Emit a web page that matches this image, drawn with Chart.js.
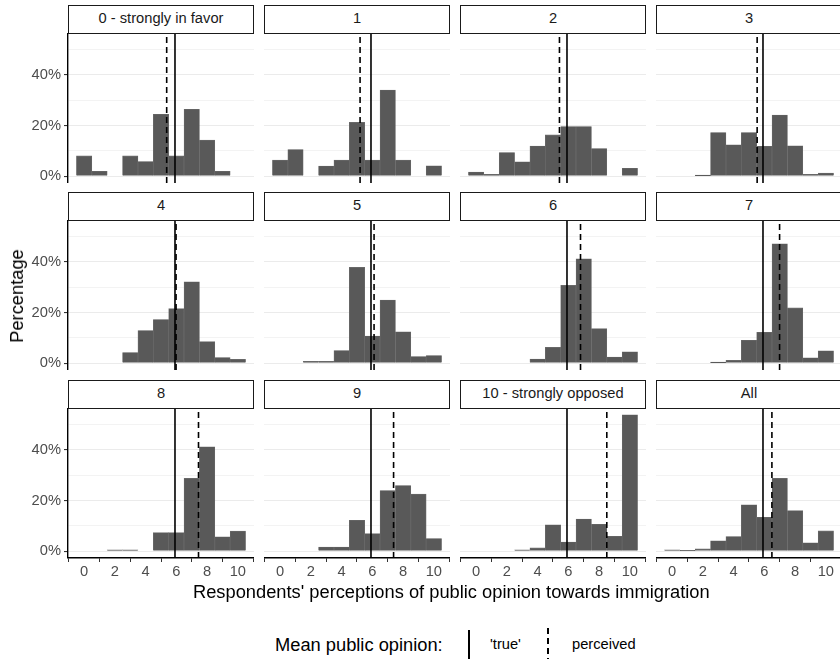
<!DOCTYPE html>
<html>
<head>
<meta charset="utf-8">
<script src="https://cdn.jsdelivr.net/npm/chart.js@4.4.1/dist/chart.umd.min.js"></script>
<style>
body{margin:0;background:#fff;width:840px;height:659px;overflow:hidden;position:relative;font-family:"Liberation Sans",Arial,sans-serif;}
canvas{position:absolute}
.strip{position:absolute;box-sizing:border-box;border:1.6px solid #1a1a1a;background:#fff;text-align:center;font-size:14.7px;color:#1a1a1a;line-height:25px;}
.txt{position:absolute;white-space:nowrap;color:#000}
</style>
</head>
<body>
<div id="wrap"></div>
<script>
// facets
const panelNames = ['0 - strongly in favor','1','2','3','4','5','6','7','8','9','10 - strongly opposed','All'];
const bins = [0,1,2,3,4,5,6,7,8,9,10];
const xTicks = [0,2,4,6,8,10];
const yTicks = [0,10,20,30,40,50];

// percentages per bin, one array per facet
const pct0   = [8, 1.9, 0, 8, 5.8, 24.4, 8, 26.4, 14.2, 1.9, 0];
const pct1   = [6.3, 10.5, 0, 4, 6.3, 21.2, 6.3, 34, 6.3, 0, 4.1];
const pct2   = [1.6, 0.7, 9.3, 5.7, 11.9, 16.3, 19.6, 19.6, 10.9, 0, 3.1];
const pct3   = [0, 0, 0.4, 17.2, 12.4, 17.2, 11.8, 24.1, 12, 0.7, 1.2];
const pct4   = [0, 0, 0, 4.2, 12.9, 17.2, 21.5, 32.1, 8.5, 2.2, 1.5];
const pct5   = [0, 0, 0.7, 0.7, 5, 37.8, 10.7, 24.9, 12.4, 2.6, 3];
const pct6   = [0, 0, 0, 0, 1.6, 6.2, 30.7, 41.2, 13.6, 2.4, 4.5];
const pct7   = [0, 0, 0, 0.4, 1.1, 9, 12.2, 47.1, 21.8, 2.1, 4.9];
const pct8   = [0, 0, 0.5, 0.5, 0, 7.3, 7.3, 28.7, 41.2, 5.7, 7.9];
const pct9   = [0, 0, 0, 1.6, 1.6, 12.2, 6.9, 23.9, 25.9, 22.5, 5];
const pct10  = [0, 0, 0, 0.5, 1.3, 10.4, 3.6, 12.7, 10.6, 5.9, 53.8];
const pctAll = [0.5, 0.3, 0.9, 4.1, 5.8, 18.3, 13.4, 28.7, 16, 3.3, 8];
const allPct = [pct0,pct1,pct2,pct3,pct4,pct5,pct6,pct7,pct8,pct9,pct10,pctAll];

// mean lines
const meanTrue      = [5.91,5.91,5.91,5.91,5.91,5.91,5.91,5.91,5.91,5.91,5.91,5.91];
const meanPerceived = [5.37,5.2,5.42,5.53,5.98,6.11,6.79,6.99,7.44,7.38,8.5,6.49];

const xMin = -1.05, xMax = 11.05, yMin = -2.7, yMax = 56.5;
const colX = [68, 264, 460, 656];
const rowY = [33, 220, 408];
const pw = 186, ph = 150;

const wrap = document.getElementById('wrap');

function vline(x, dash) {
  return {
    type: 'line',
    data: [{x: x, y: yMin}, {x: x, y: yMax}],
    borderColor: '#000',
    borderWidth: 1.6,
    borderDash: dash,
    pointRadius: 0,
    order: 1
  };
}

panelNames.forEach((name, i) => {
  const col = i % 4, row = Math.floor(i / 4);
  const left = col === 0 ? 20 : colX[col];
  const w = col === 0 ? colX[0] + pw - 20 : pw;
  const top = rowY[row];
  const h = row === 2 ? ph + 26 : ph;

  const strip = document.createElement('div');
  strip.className = 'strip';
  strip.style.left = colX[col] + 'px';
  strip.style.top = (top - 28) + 'px';
  strip.style.width = pw + 'px';
  strip.style.height = '29px';
  strip.textContent = name;

  const cv = document.createElement('canvas');
  cv.width = w; cv.height = h;
  cv.style.left = left + 'px'; cv.style.top = top + 'px';
  cv.style.width = w + 'px'; cv.style.height = h + 'px';
  wrap.appendChild(cv);
  wrap.appendChild(strip);

  new Chart(cv, {
    type: 'bar',
    data: {
      datasets: [
        {
          data: bins.map((b, k) => ({x: b, y: allPct[i][k]})),
          backgroundColor: '#595959',
          borderColor: '#6e6e6e',
          borderWidth: 0.6,
          barPercentage: 1,
          categoryPercentage: 1,
          order: 2
        },
        vline(meanTrue[i], []),
        vline(meanPerceived[i], [6, 4])
      ]
    },
    options: {
      responsive: false,
      animation: false,
      events: [],
      layout: {padding: 0},
      plugins: {legend: {display: false}, tooltip: {enabled: false}},
      scales: {
        x: {
          type: 'linear',
          offset: false,
          min: xMin, max: xMax,
          afterBuildTicks: s => { s.ticks = xTicks.map(v => ({value: v})); },
          afterFit: s => { s.height = row === 2 ? 26 : 0; s.paddingLeft = 0; s.paddingRight = 0; },
          grid: {drawOnChartArea: false, drawTicks: row === 2, tickLength: 4, tickColor: '#333'},
          border: {display: row === 2, color: '#000', width: 1.4},
          ticks: {display: row === 2, color: '#4d4d4d', font: {family: 'Liberation Sans', size: 14.7}, padding: 1, maxRotation: 0}
        },
        y: {
          min: yMin, max: yMax,
          afterBuildTicks: s => { s.ticks = yTicks.map(v => ({value: v})); },
          afterFit: s => { s.width = col === 0 ? 48 : 0; s.paddingTop = 0; s.paddingBottom = 0; },
          grid: {
            color: '#ebebeb',
            lineWidth: c => (c.tick && c.tick.value % 20 === 0) ? 1.1 : 0.6,
            drawTicks: col === 0,
            tickLength: 4,
            tickColor: c => (c.tick && c.tick.value % 20 === 0) ? '#333' : 'rgba(0,0,0,0)'
          },
          border: {display: col === 0, color: '#000', width: 1.4},
          ticks: {
            display: col === 0,
            color: '#4d4d4d',
            font: {family: 'Liberation Sans', size: 14.7},
            padding: 3,
            callback: v => v % 20 === 0 ? v + '%' : ''
          }
        }
      }
    }
  });
});
</script>
<div class="txt" style="left:193px;top:581px;font-size:18.3px;">Respondents' perceptions of public opinion towards immigration</div>
<div class="txt" style="left:17px;top:296px;font-size:18.3px;transform:translate(-50%,-50%) rotate(-90deg);">Percentage</div>
<div class="txt" style="left:275px;top:634px;font-size:18.3px;">Mean public opinion:</div>
<div style="position:absolute;left:468px;top:630px;width:1.6px;height:29px;background:#000;"></div>
<div class="txt" style="left:490px;top:636px;font-size:14.7px;">'true'</div>
<div style="position:absolute;left:547px;top:628px;width:1.6px;height:31px;background:repeating-linear-gradient(to bottom,#000 0,#000 6px,transparent 6px,transparent 10px);"></div>
<div class="txt" style="left:572px;top:636px;font-size:14.7px;">perceived</div>
</body>
</html>
